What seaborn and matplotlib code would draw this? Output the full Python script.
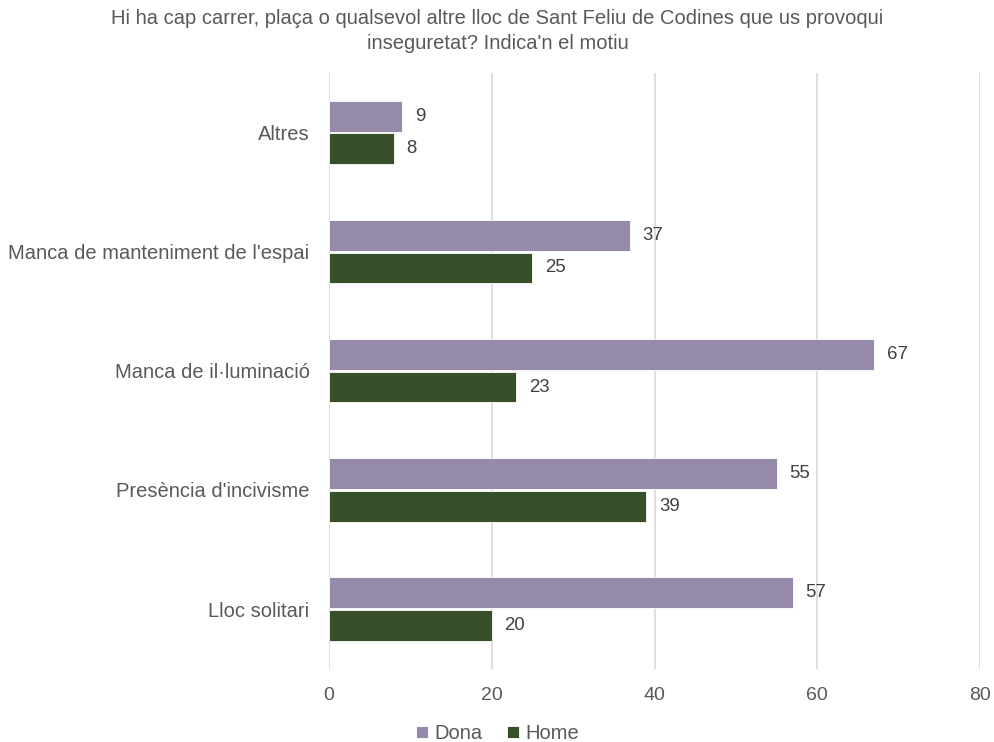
import pandas as pd
import numpy as np
import matplotlib
matplotlib.use("Agg")
import matplotlib.pyplot as plt
import seaborn as sns

# dades
categories = ["Altres", "Manca de manteniment de l'espai", "Manca de il·luminació",
              "Presència d'incivisme", "Lloc solitari"]
dona = [9, 37, 67, 55, 57]
home = [8, 25, 23, 39, 20]
grups = ["Dona", "Home"]
colors = {"Dona": "#9584B0", "Home": "#375623"}

df = pd.DataFrame({
    "motiu": categories * 2,
    "valor": dona + home,
    "grup": ["Dona"] * len(dona) + ["Home"] * len(home),
})

sns.set_style("white")
plt.rcParams["font.family"] = ["Liberation Sans", "DejaVu Sans"]

fig = plt.figure(figsize=(9.95, 7.42), dpi=100)
ax = fig.add_axes([0.3307, 0.0989, 0.6543, 0.8027])

sns.barplot(data=df, y="motiu", x="valor", hue="grup", order=categories,
            hue_order=grups, palette=colors, width=0.545, gap=0.05,
            orient="h", ax=ax, legend=True, edgecolor="white", linewidth=0.6)

for cont in ax.containers:
    ax.bar_label(cont, padding=9, fontsize=13.4, color="#404040")

ax.set_xlim(0, 80)
ax.set_ylim(4.5, -0.5)
ax.set_xticks([0, 20, 40, 60, 80])
ax.grid(axis="x", color="#D9D9D9", linewidth=1.2)
ax.set_axisbelow(True)
for s in ax.spines.values():
    s.set_visible(False)
ax.tick_params(axis="both", length=0, colors="#595959")
ax.tick_params(axis="x", labelsize=14, pad=13)
ax.tick_params(axis="y", labelsize=14.5, pad=14)
ax.set_xlabel("")
ax.set_ylabel("")

fig.suptitle("Hi ha cap carrer, plaça o qualsevol altre lloc de Sant Feliu de Codines que us provoqui\ninseguretat? Indica'n el motiu",
             x=0.5, y=0.988, fontsize=14.5, color="#595959", linespacing=1.38)

handles, labels = ax.get_legend_handles_labels()
ax.legend_.remove()
fig.legend(handles, labels, loc="lower center", bbox_to_anchor=(0.5, -0.026), ncol=2,
           frameon=False, fontsize=14.5, handlelength=0.6, handleheight=0.6,
           handletextpad=0.3, columnspacing=1.2, labelcolor="#595959")

fig.savefig("out.png", dpi=100)
